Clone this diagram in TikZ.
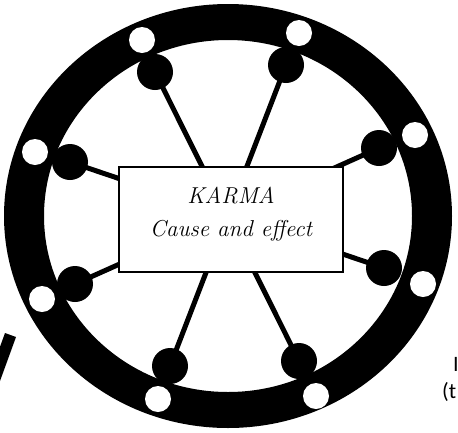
\documentclass[tikz,border=0pt]{standalone}
\usepackage{fontspec}
\newfontfamily\sidefont{Carlito}
\begin{document}
\begin{tikzpicture}[x=1pt,y=-1pt,
  hole/.style={circle,fill=white,inner sep=0pt,minimum size=26pt},
  knob/.style={circle,fill=black,inner sep=0pt,minimum size=36pt},
  spoke/.style={line width=5pt,black},
  sidetext/.style={anchor=base west,inner sep=0pt,font=\sidefont\fontsize{22}{26}\selectfont}]
\useasboundingbox (0,0) rectangle (458,432);
\clip (0,0) rectangle (458,432);
% rim
\fill[black,even odd rule] (228,216) ellipse [x radius=224, y radius=212]
                           (228,216) ellipse [x radius=184, y radius=176];
% knobs
\node[knob] (k1) at (155,72) {};
\node[knob] (k2) at (286,65) {};
\node[knob] (k3) at (379,148) {};
\node[knob] (k4) at (384,268) {};
\node[knob] (k5) at (299,361) {};
\node[knob] (k6) at (170,366) {};
\node[knob] (k7) at (75,284) {};
\node[knob] (k8) at (70,162) {};
% spokes
\draw[spoke] (k1.center) -- (k5.center);
\draw[spoke] (k2.center) -- (k6.center);
\draw[spoke] (k3.center) -- (k7.center);
\draw[spoke] (k4.center) -- (k8.center);
% holes
\node[hole] (h1) at (142,40) {};
\node[hole] (h2) at (299,33) {};
\node[hole] (h3) at (415,135) {};
\node[hole] (h4) at (423,284) {};
\node[hole] (h5) at (316,396) {};
\node[hole] (h6) at (158,399) {};
\node[hole] (h7) at (42,299) {};
\node[hole] (h8) at (35,152) {};
% centre box
\node[draw,fill=white,line width=1.2pt,minimum width=224pt,minimum height=105pt,inner sep=0pt] (box) at (231,219.5) {};
\node[align=center,inner sep=0pt,font=\itshape\fontsize{23}{33}\selectfont] (karma) at (231,214) {KARMA\\Cause and effect};
% partial shapes at the edges
\fill[black] (5,333) -- (16,337) -- (-4,392) -- (-15,388) -- cycle;
\node[sidetext] (t1) at (453,371) {I};
\node[sidetext] (t2) at (442,398) {(t};
\end{tikzpicture}
\end{document}
